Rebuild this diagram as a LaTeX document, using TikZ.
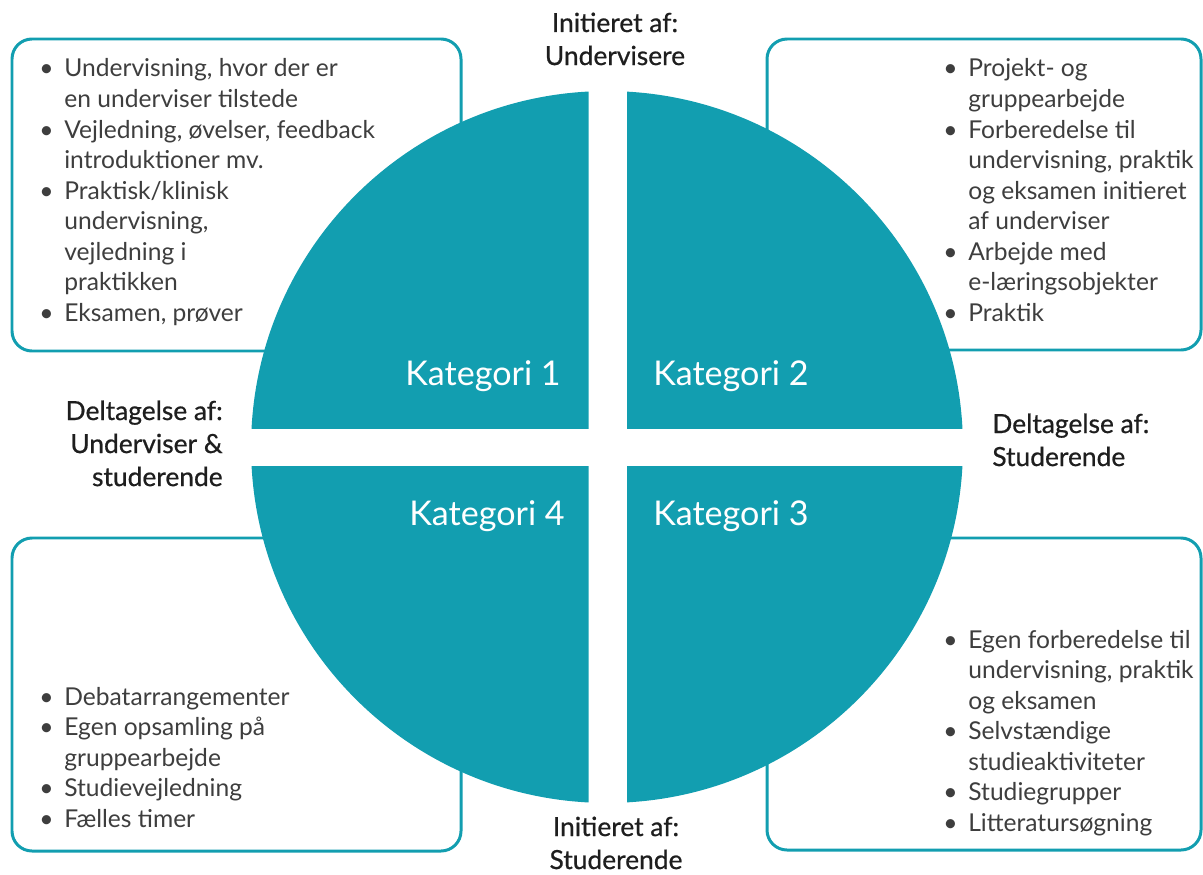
\documentclass[tikz,border=0pt]{standalone}
\usepackage{fontspec}
\setmainfont{Lato}
\newfontfamily\labelfont{Lato}[FakeBold=0.7]
\usepackage{tikz}
\definecolor{ktteal}{RGB}{18,158,176}
\definecolor{kttext}{RGB}{62,62,62}
\definecolor{ktlabel}{RGB}{30,30,30}
\tikzstyle{listbox} = [draw=ktteal, line width=1.7pt, rounded corners=0.4cm, fill=white]
\tikzstyle{quad} = [fill=ktteal]
\tikzstyle{itemtext} = [anchor=base west, inner sep=0pt, text=kttext, font=\fontsize{14}{17.4}\selectfont]
\tikzstyle{axislabel} = [inner sep=0pt, text=ktlabel, font=\labelfont\fontsize{15}{18.8}\selectfont]
\tikzstyle{katlabel} = [inner sep=0pt, text=white, font=\fontsize{19.4}{21}\selectfont]
\newcommand{\blist}[1]{\begin{tabular}[t]{@{}p{0.5cm}@{}l@{}}#1\end{tabular}}
\newcommand{\bp}{\textbullet}

\begin{document}
\begin{tikzpicture}[x=0.02cm, y=-0.02cm]
\useasboundingbox (0,0) rectangle (1203,875);

% Boxes
\draw[listbox] (12,39) rectangle (461,351);
\draw[listbox] (767,39) rectangle (1201,350);
\draw[listbox] (12,538) rectangle (461,851);
\draw[listbox] (767,538) rectangle (1201,850);

% Quadrants
\foreach \xa/\ya/\xb/\yb in {0/0/588.5/428.5, 627/0/1203/428.5, 0/466.5/588.5/875, 627/466.5/1203/875} {
  \begin{scope}
    \clip (\xa,\ya) rectangle (\xb,\yb);
    \fill[quad] (607,447) circle[radius=7.12cm];
  \end{scope}
}

% Lists
\node[itemtext] (list1) at (39,77) {\blist{
  \bp & Undervisning, hvor der er\\
      & en underviser tilstede\\
  \bp & Vejledning, øvelser, feedback\\
      & introduktioner mv.\\
  \bp & Praktisk/klinisk\\
      & undervisning,\\
      & vejledning i\\
      & praktikken\\
  \bp & Eksamen, prøver}};
\node[itemtext] (list2) at (943,77) {\blist{
  \bp & Projekt- og\\
      & gruppearbejde\\
  \bp & Forberedelse til\\
      & undervisning, praktik\\
      & og eksamen initieret\\
      & af underviser\\
  \bp & Arbejde med\\
      & e-læringsobjekter\\
  \bp & Praktik}};
\node[itemtext] (list3) at (943,648) {\blist{
  \bp & Egen forberedelse til\\
      & undervisning, praktik\\
      & og eksamen\\
  \bp & Selvstændige\\
      & studieaktiviteter\\
  \bp & Studiegrupper\\
  \bp & Litteratursøgning}};
\node[itemtext] (list4) at (39,705) {\blist{
  \bp & Debatarrangementer\\
  \bp & Egen opsamling på\\
      & gruppearbejde\\
  \bp & Studievejledning\\
  \bp & Fælles timer}};

% Categories
\node[katlabel, anchor=base east] (kat1) at (561,385) {Kategori 1};
\node[katlabel, anchor=base west] (kat2) at (653,385) {Kategori 2};
\node[katlabel, anchor=base west] (kat3) at (653,525) {Kategori 3};
\node[katlabel, anchor=base east] (kat4) at (565,525) {Kategori 4};

% Axis labels
\node[axislabel, anchor=base] (initU) at (615,32) {\begin{tabular}[t]{@{}c@{}}Initieret af:\\Undervisere\end{tabular}};
\node[axislabel, anchor=base] (initS) at (616,836) {\begin{tabular}[t]{@{}c@{}}Initieret af:\\Studerende\end{tabular}};
\node[axislabel, anchor=base east] (delUS) at (223,420) {\begin{tabular}[t]{@{}r@{}}Deltagelse af:\\Underviser \&\\studerende\end{tabular}};
\node[axislabel, anchor=base west] (delS) at (992,433) {\begin{tabular}[t]{@{}l@{}}Deltagelse af:\\Studerende\end{tabular}};
\end{tikzpicture}
\end{document}
